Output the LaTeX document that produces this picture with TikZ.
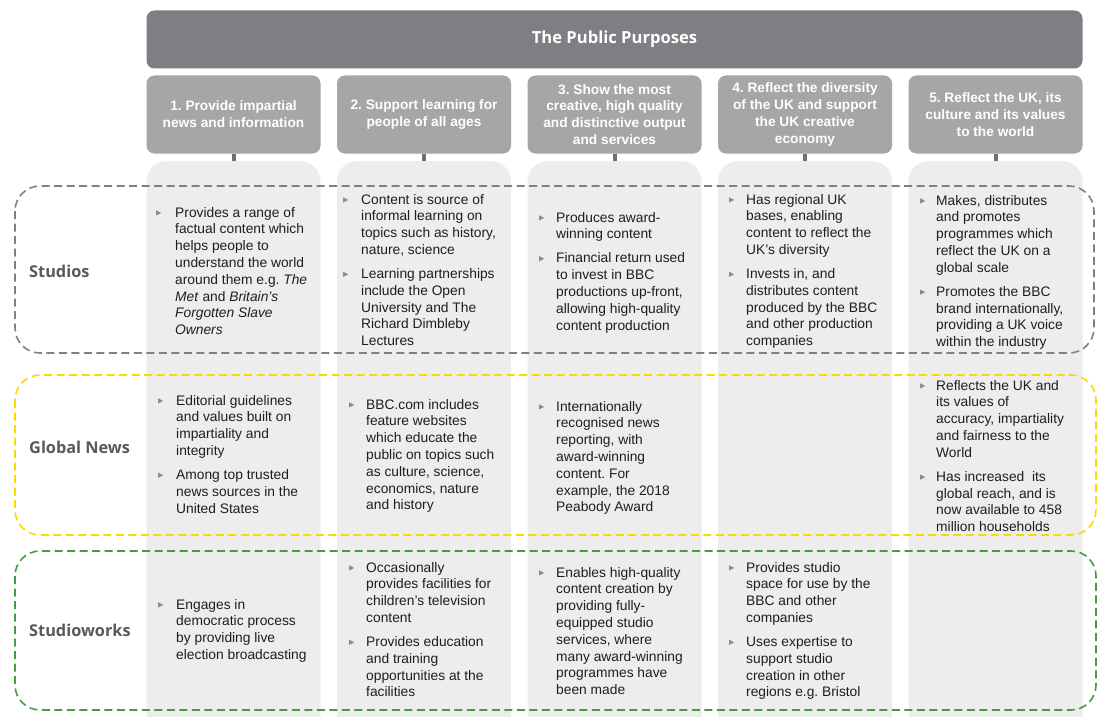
\documentclass[tikz,border=0pt]{standalone}
\usepackage{fontspec}
\setmainfont{Liberation Sans}
\newfontfamily\labelfont{Open Sans}
\definecolor{titlegray}{HTML}{7F7E83}
\definecolor{headgray}{HTML}{A6A6A7}
\definecolor{bodygray}{HTML}{EDEDED}
\definecolor{stubgray}{HTML}{6F6F6F}
\definecolor{dashgray}{HTML}{808080}
\definecolor{dashyellow}{HTML}{FFD800}
\definecolor{dashgreen}{HTML}{3EA13E}
\definecolor{labelgray}{HTML}{595959}
\definecolor{bulgray}{HTML}{8C8C8C}
\definecolor{textdark}{HTML}{1E1E1E}
\frenchspacing
\newcommand\B{\tikz[baseline=0pt]\fill[bulgray] (0pt,1.5pt)--(0pt,6.7pt)--(5pt,4.1pt)--cycle;}
\newcommand\cellfont{\fontsize{13.8}{16.8}\selectfont}
\newcommand\headfont{\fontsize{13.7}{16.8}\selectfont\bfseries}
\newcommand\celltab[2]{\begin{tabular}[t]{@{}p{#1pt}@{}l@{}}#2\end{tabular}}
\tikzset{
  titlebox/.style={fill=titlegray, rounded corners=8pt, minimum width=936pt, minimum height=58pt, inner sep=0pt, text=white, font=\labelfont\fontsize{16.6}{19}\selectfont\bfseries},
  headbox/.style={fill=headgray, rounded corners=8pt, minimum width=174pt, minimum height=78pt, inner sep=0pt, text=white, align=center, font=\headfont},
  bodycol/.style={fill=bodygray, rounded corners=20pt, minimum width=174pt, minimum height=620pt, inner sep=0pt, anchor=north},
  stub/.style={draw=stubgray, line width=4pt},
  frame/.style={line width=1.6pt, dash pattern=on 8pt off 4.5pt, rounded corners=25pt},
  rowlabel/.style={anchor=west, inner sep=0pt, text=labelgray, font=\labelfont\fontsize{16.3}{19}\selectfont\bfseries},
  cell/.style={anchor=base west, inner sep=0pt, text=textdark, font=\cellfont}
}
\begin{document}
\begin{tikzpicture}[x=1pt,y=-1pt]
\useasboundingbox (0,0) rectangle (1103,717);
\clip (0,0) rectangle (1103,717);
\fill[white] (0,0) rectangle (1103,717);
% title
\node[titlebox] (title) at (614.5,39.5) {The Public Purposes};
% headers
\node[headbox] (h1) at (233.5,114.5) {1. Provide impartial\\news and information};
\node[headbox] (h2) at (424,114.5) {2. Support learning for\\people of all ages};
\node[headbox] (h3) at (614.5,114.5) {3. Show the most\\creative, high quality\\and distinctive output\\and services};
\node[headbox] (h4) at (805,114.5) {4. Reflect the diversity\\of the UK and support\\the UK creative\\economy};
\node[headbox] (h5) at (995.5,114.5) {5. Reflect the UK, its\\culture and its values\\to the world};
% body columns
\node[bodycol] (b1) at (233.5,161) {};
\node[bodycol] (b2) at (424,161) {};
\node[bodycol] (b3) at (614.5,161) {};
\node[bodycol] (b4) at (805,161) {};
\node[bodycol] (b5) at (995.5,161) {};
\draw[stub] (h1.south) -- (b1.north);
\draw[stub] (h2.south) -- (b2.north);
\draw[stub] (h3.south) -- (b3.north);
\draw[stub] (h4.south) -- (b4.north);
\draw[stub] (h5.south) -- (b5.north);
% row frames
\draw[frame, draw=dashgray] (15,186) rectangle (1094,353);
\draw[frame, draw=dashyellow] (15,375) rectangle (1096,535);
\draw[frame, draw=dashgreen] (15,551) rectangle (1096,710);
% row labels
\node[rowlabel] (lstudios) at (29,271) {Studios};
\node[rowlabel] (lnews) at (29,447) {Global News};
\node[rowlabel] (lworks) at (29,630) {Studioworks};
% Studios row
\node[cell] (s1) at (156,217) {\celltab{19}{\B & Provides a range of\\ & factual content which\\ & helps people to\\ & understand the world\\ & around them e.g. \textit{The}\\ & \textit{Met} and \textit{Britain’s}\\ & \textit{Forgotten Slave}\\ & \textit{Owners}}};
\node[cell] (s2) at (343,204) {\celltab{18}{\B & Content is source of\\ & informal learning on\\ & topics such as history,\\ & nature, science\\[7.2pt] \B & Learning partnerships\\ & include the Open\\ & University and The\\ & Richard Dimbleby\\ & Lectures}};
\node[cell] (s3) at (539,222) {\celltab{17}{\B & Produces award-\\ & winning content\\[7.2pt] \B & Financial return used\\ & to invest in BBC\\ & productions up-front,\\ & allowing high-quality\\ & content production}};
\node[cell] (s4) at (729,204) {\celltab{17}{\B & Has regional UK\\ & bases, enabling\\ & content to reflect the\\ & UK’s diversity\\[7.2pt] \B & Invests in, and\\ & distributes content\\ & produced by the BBC\\ & and other production\\ & companies}};
\node[cell] (s5) at (920,205) {\celltab{16}{\B & Makes, distributes\\ & and promotes\\ & programmes which\\ & reflect the UK on a\\ & global scale\\[7.2pt] \B & Promotes the BBC\\ & brand internationally,\\ & providing a UK voice\\ & within the industry}};
% Global News row
\node[cell] (g1) at (158,405) {\celltab{18}{\B & Editorial guidelines\\ & and values built on\\ & impartiality and\\ & integrity\\[7.2pt] \B & Among top trusted\\ & news sources in the\\ & United States}};
\node[cell] (g2) at (349,409) {\celltab{17}{\B & BBC.com includes\\ & feature websites\\ & which educate the\\ & public on topics such\\ & as culture, science,\\ & economics, nature\\ & and history}};
\node[cell] (g3) at (539,411) {\celltab{17}{\B & Internationally\\ & recognised news\\ & reporting, with\\ & award-winning\\ & content. For\\ & example, the 2018\\ & Peabody Award}};
\node[cell] (g5) at (920,390) {\celltab{16}{\B & Reflects the UK and\\ & its values of\\ & accuracy, impartiality\\ & and fairness to the\\ & World\\[7.2pt] \B & Has increased\ \ its\\ & global reach, and is\\ & now available to 458\\ & million households}};
% Studioworks row
\node[cell] (w1) at (158,609) {\celltab{18}{\B & Engages in\\ & democratic process\\ & by providing live\\ & election broadcasting}};
\node[cell] (w2) at (349,572) {\celltab{17}{\B & Occasionally\\ & provides facilities for\\ & children’s television\\ & content\\[7.2pt] \B & Provides education\\ & and training\\ & opportunities at the\\ & facilities}};
\node[cell] (w3) at (539,577) {\celltab{17}{\B & Enables high-quality\\ & content creation by\\ & providing fully-\\ & equipped studio\\ & services, where\\ & many award-winning\\ & programmes have\\ & been made}};
\node[cell] (w4) at (729,572) {\celltab{17}{\B & Provides studio\\ & space for use by the\\ & BBC and other\\ & companies\\[7.2pt] \B & Uses expertise to\\ & support studio\\ & creation in other\\ & regions e.g. Bristol}};
\end{tikzpicture}
\end{document}
